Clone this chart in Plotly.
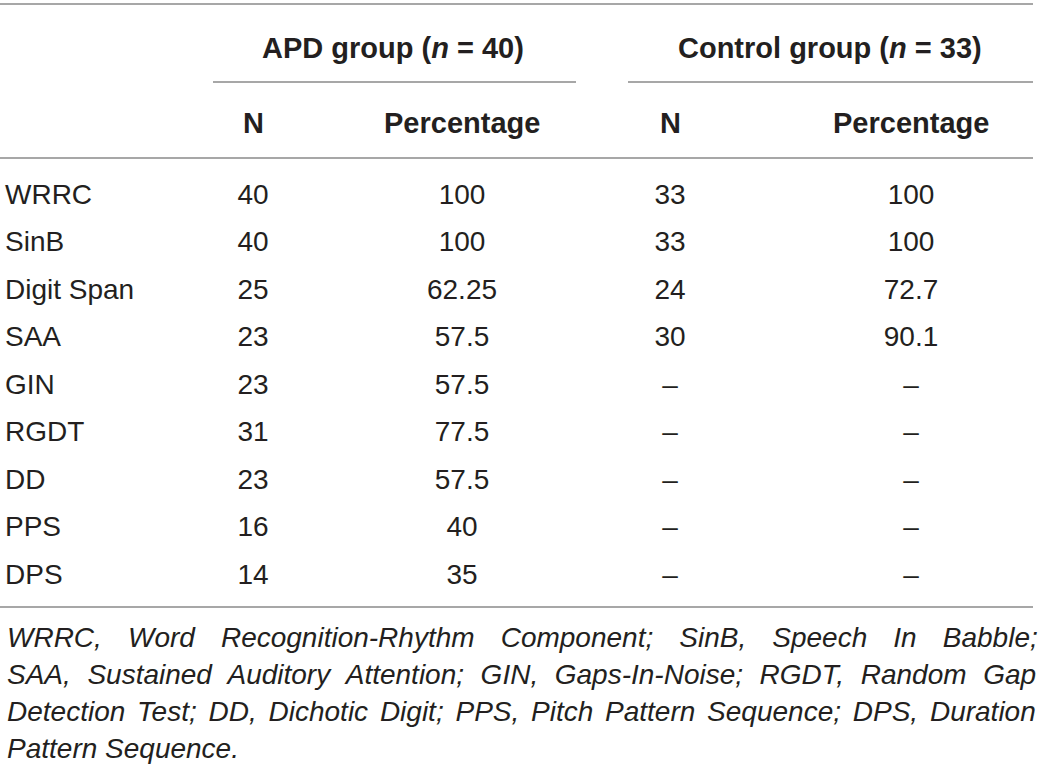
import plotly.graph_objects as go


# table content
ROW_LABELS = ["WRRC", "SinB", "Digit Span", "SAA", "GIN", "RGDT", "DD", "PPS", "DPS"]
APD_N = ["40", "40", "25", "23", "23", "31", "23", "16", "14"]
APD_PCT = ["100", "100", "62.25", "57.5", "57.5", "77.5", "57.5", "40", "35"]
CTRL_N = ["33", "33", "24", "30", "–", "–", "–", "–", "–"]
CTRL_PCT = ["100", "100", "72.7", "90.1", "–", "–", "–", "–", "–"]

GROUP_HEADERS = ["APD group (<i>n</i> = 40)", "Control group (<i>n</i> = 33)"]
COL_HEADERS = ["N", "Percentage", "N", "Percentage"]

FOOTNOTE_LINES = [
    "WRRC, Word Recognition-Rhythm Component; SinB, Speech In Babble;",
    "SAA, Sustained Auditory Attention; GIN, Gaps-In-Noise; RGDT, Random Gap",
    "Detection Test; DD, Dichotic Digit; PPS, Pitch Pattern Sequence; DPS, Duration",
    "Pattern Sequence.",
]

# layout (pixels)
W, H = 1039, 769
FONT = "Liberation Sans, Arial, sans-serif"
TEXT_COLOR = "#231f20"
RULE_COLOR = "#8a8a8a"
FONT_SIZE = 28
HEAD_SIZE = 29

LABEL_X = 5
COL_X = [253, 462, 670, 911]
GROUP_X = [393, 830]
GROUP_RULES = [(213, 576), (628, 1033)]
GROUP_Y = 48
HEADER_Y = 123
FIRST_ROW_Y = 196.5
ROW_STEP = 47.5
RULE_Y = {"top": 4, "sub": 82, "head": 158, "bottom": 607}
FOOT_Y0 = 637
FOOT_STEP = 37
FOOT_WORD_SPACING = [18.3, 8.8, 4.0, 0]


def py(pixel):
    return 1 - pixel / H


def px(pixel):
    return pixel / W


def main() -> None:
    fig = go.Figure()

    # body cells
    fig.add_trace(
        go.Scatter(
            x=[LABEL_X] * len(ROW_LABELS),
            y=ROW_LABELS,
            text=ROW_LABELS,
            mode="text",
            textposition="middle right",
            textfont=dict(family=FONT, size=FONT_SIZE, color=TEXT_COLOR),
            hoverinfo="skip",
        )
    )
    for cx, col in zip(COL_X, [APD_N, APD_PCT, CTRL_N, CTRL_PCT]):
        fig.add_trace(
            go.Scatter(
                x=[cx] * len(col),
                y=ROW_LABELS,
                text=col,
                mode="text",
                textposition="middle center",
                textfont=dict(family=FONT, size=FONT_SIZE, color=TEXT_COLOR),
                hoverinfo="skip",
            )
        )

    # header
    for gx, label in zip(GROUP_X, GROUP_HEADERS):
        fig.add_annotation(
            x=px(gx), y=py(GROUP_Y), xref="paper", yref="paper",
            text=f"<b>{label}</b>", showarrow=False,
            xanchor="center", yanchor="middle",
            font=dict(family=FONT, size=HEAD_SIZE, color=TEXT_COLOR),
        )
    for cx, label in zip(COL_X, COL_HEADERS):
        fig.add_annotation(
            x=px(cx), y=py(HEADER_Y), xref="paper", yref="paper",
            text=f"<b>{label}</b>", showarrow=False,
            xanchor="center", yanchor="middle",
            font=dict(family=FONT, size=HEAD_SIZE, color=TEXT_COLOR),
        )

    # rules
    rule = dict(type="line", xref="paper", yref="paper",
                line=dict(color=RULE_COLOR, width=1.5))
    for key in ["top", "head", "bottom"]:
        fig.add_shape(x0=0, x1=px(1033), y0=py(RULE_Y[key]), y1=py(RULE_Y[key]), **rule)
    for x0, x1 in GROUP_RULES:
        fig.add_shape(x0=px(x0), x1=px(x1), y0=py(RULE_Y["sub"]), y1=py(RULE_Y["sub"]), **rule)

    # footnote, justified by widening word gaps
    for i, (line, ws) in enumerate(zip(FOOTNOTE_LINES, FOOT_WORD_SPACING)):
        fig.add_annotation(
            x=px(LABEL_X), y=py(FOOT_Y0 + i * FOOT_STEP), xref="paper", yref="paper",
            text=f'<span style="word-spacing:{ws}px">{line}</span>',
            showarrow=False, xanchor="left", yanchor="middle",
            font=dict(family=FONT, size=FONT_SIZE, color=TEXT_COLOR, style="italic"),
        )

    y_top = -FIRST_ROW_Y / ROW_STEP
    y_bottom = (H - FIRST_ROW_Y) / ROW_STEP
    fig.update_layout(
        width=W,
        height=H,
        margin=dict(l=0, r=0, t=0, b=0),
        paper_bgcolor="white",
        plot_bgcolor="white",
        showlegend=False,
        xaxis=dict(range=[0, W], visible=False, fixedrange=True),
        yaxis=dict(
            type="category",
            categoryorder="array",
            categoryarray=ROW_LABELS,
            range=[y_bottom, y_top],
            visible=False,
            fixedrange=True,
        ),
    )

    # drop the page's default body margin so the figure sits at the corner
    fig.write_html(
        "out.html",
        config={"displayModeBar": False},
        post_script="document.body.style.margin = '0';",
    )


if __name__ == "__main__":
    main()
